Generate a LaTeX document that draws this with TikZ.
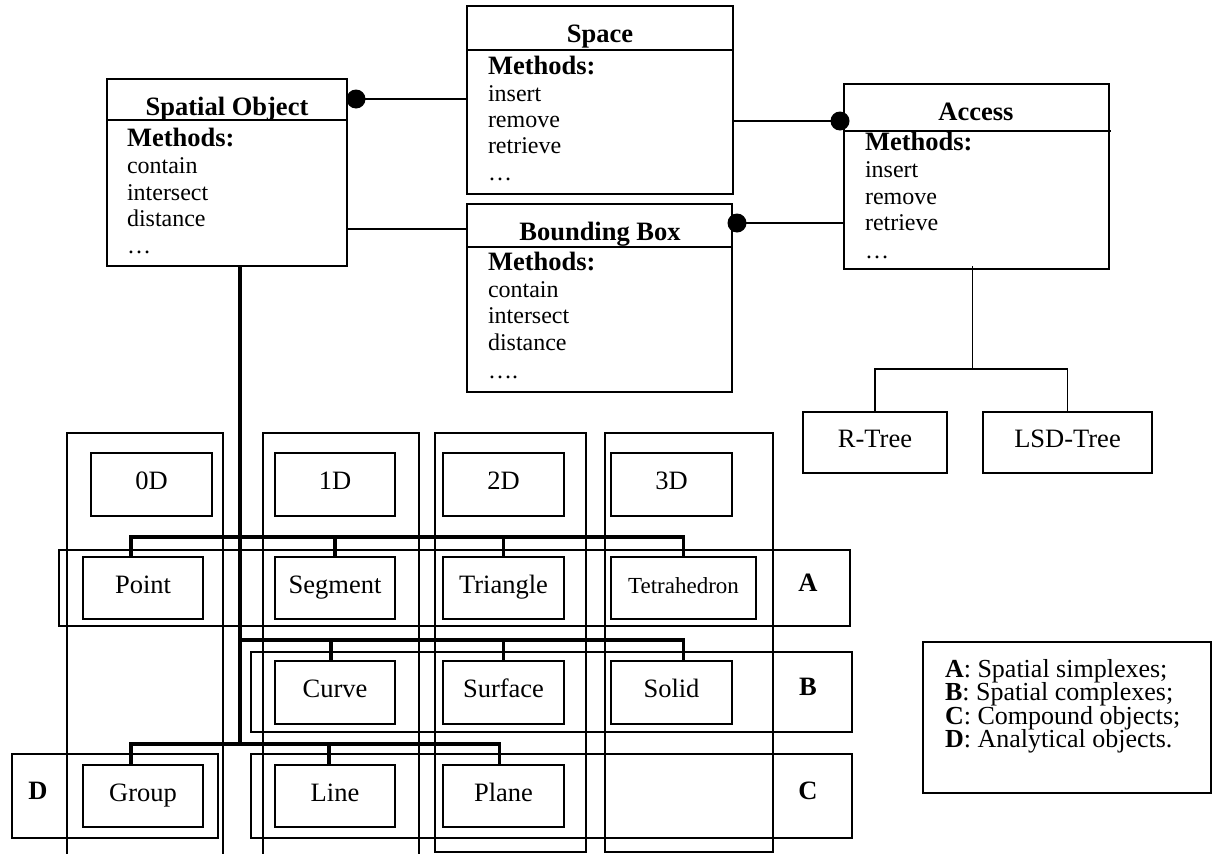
\documentclass[tikz,border=0pt]{standalone}
\usepackage{fontspec}
\setmainfont{Liberation Serif}
\usetikzlibrary{calc}
\newcommand\lbox[6]{\node[lb, minimum width={(#4)-(#2)}, minimum height={(#5)-(#3)}] (#1) at ({((#2)+(#4))/2},{((#3)+(#5))/2}) {#6};}
\newcommand\rect[4]{\draw[thinln] (#1,#2) rectangle (#3,#4);}
\begin{document}
\begin{tikzpicture}[x=1pt,y=-1pt,
  every node/.style={outer sep=0pt},
  thinln/.style={line width=1.7pt},
  thickln/.style={line width=3.6pt, line join=miter},
  cls/.style={draw, line width=1.8pt, inner sep=0pt, anchor=north west},
  ttl/.style={anchor=base, inner sep=0pt, font=\fontsize{26.5}{28}\selectfont\bfseries},
  mth/.style={anchor=base west, inner sep=0pt, font=\fontsize{26.5}{28}\selectfont\bfseries},
  op/.style={anchor=base west, inner sep=0pt, font=\fontsize{24}{26}\selectfont},
  lb/.style={draw, line width=1.7pt, inner sep=0pt, text height=17pt, text depth=7pt, font=\fontsize{26.5}{28}\selectfont},
  lt/.style={inner sep=0pt, text height=17pt, text depth=7pt, font=\fontsize{26.5}{28}\selectfont\bfseries},
  lgt/.style={anchor=base west, inner sep=0pt, font=\fontsize{26}{26}\selectfont},
  dot/.style={fill=black}]
\useasboundingbox (0,0) rectangle (1213,854);

% ---------- class boxes ----------
\node[cls, minimum width=240pt, minimum height=187pt] (so) at (107,79) {};
\draw[line width=1.8pt] ($(so.north west)+(0,41)$) -- ($(so.north east)+(0,41)$);
\node[ttl] (so-t) at (227,115) {Spatial Object};
\node[mth] (so-m) at (127,146) {Methods:};
\node[op] (so-1) at (127,173) {contain};
\node[op] (so-2) at (127,200) {intersect};
\node[op] (so-3) at (127,226) {distance};
\node[op] (so-4) at (127,253) {…};

\node[cls, minimum width=266pt, minimum height=188pt] (sp) at (467,6) {};
\draw[line width=1.8pt] ($(sp.north west)+(0,44)$) -- ($(sp.north east)+(0,44)$);
\node[ttl] (sp-t) at (600,42) {Space};
\node[mth] (sp-m) at (488,74) {Methods:};
\node[op] (sp-1) at (488,101) {insert};
\node[op] (sp-2) at (488,127) {remove};
\node[op] (sp-3) at (488,153) {retrieve};
\node[op] (sp-4) at (488,180) {…};

\node[cls, minimum width=265pt, minimum height=185pt] (ac) at (844,84) {};
\draw[line width=1.8pt] ($(ac.north west)+(0,47)$) -- ($(ac.north east)+(2,47)$);
\node[ttl] (ac-t) at (976,120) {Access};
\node[mth] (ac-m) at (865,150) {Methods:};
\node[op] (ac-1) at (865,177) {insert};
\node[op] (ac-2) at (865,204) {remove};
\node[op] (ac-3) at (865,230) {retrieve};
\node[op] (ac-4) at (865,258) {…};

\node[cls, minimum width=265pt, minimum height=188pt] (bb) at (467,204) {};
\draw[line width=1.8pt] ($(bb.north west)+(0,43)$) -- ($(bb.north east)+(0,43)$);
\node[ttl] (bb-t) at (600,240) {Bounding Box};
\node[mth] (bb-m) at (488,270) {Methods:};
\node[op] (bb-1) at (488,297) {contain};
\node[op] (bb-2) at (488,323) {intersect};
\node[op] (bb-3) at (488,350) {distance};
\node[op] (bb-4) at (488,378) {….};

% ---------- class connectors ----------
\coordinate (d1) at ($(so.north east)+(9,20)$);
\draw[thinln] (d1) -- (d1 -| sp.west);
\fill[dot] (d1) circle[radius=9.5pt];

\coordinate (d2) at ($(ac.north west)+(-4,37)$);
\draw[thinln] (d2 -| sp.east) -- (d2);
\fill[dot] (d2) circle[radius=9.5pt];

\coordinate (c3) at ($(so.north east)+(0,150)$);
\draw[thinln] (c3) -- (c3 -| bb.west);

\coordinate (d4) at ($(bb.north east)+(5,19)$);
\draw[thinln] (d4) -- (d4 -| ac.west);
\fill[dot] (d4) circle[radius=9.5pt];

% ---------- access tree ----------
\lbox{rt}{803}{412}{947}{473}{R-Tree}
\lbox{lsd}{983}{412}{1152}{473}{LSD-Tree}
\coordinate (ab) at ($(ac.south)+(-4,100)$);
\draw[thinln] ($(ac.south)+(-4,-3)$) -- (ab);
\draw[thinln] (rt.north) |- (ab) -| (lsd.north);

% ---------- grid frames ----------
\draw[thinln] (67,854) -- (67,433) -- (223,433) -- (223,854);
\draw[thinln] (263,854) -- (263,433) -- (419,433) -- (419,854);
\rect{435}{433}{586}{852}
\rect{605}{433}{773}{852}
\rect{59}{550}{850}{626}
\rect{251}{652}{852}{732}
\rect{251}{754}{852}{838}
\rect{12}{754}{218}{838}

% ---------- grid boxes ----------
\lbox{z0}{91}{453}{212}{516}{0D}
\lbox{z1}{275}{453}{395}{516}{1D}
\lbox{z2}{443}{453}{564}{516}{2D}
\lbox{z3}{611}{453}{732}{516}{3D}
\lbox{pt}{83}{557}{203}{619}{Point}
\lbox{sg}{275}{557}{395}{619}{Segment}
\lbox{tr}{443}{557}{564}{619}{Triangle}
\lbox{te}{611}{557}{756}{619}{\fontsize{23}{25}\selectfont Tetrahedron}
\lbox{cu}{275}{661}{395}{724}{Curve}
\lbox{sf}{443}{661}{564}{724}{Surface}
\lbox{sd}{611}{661}{732}{724}{Solid}
\lbox{gr}{83}{765}{203}{827}{Group}
\lbox{ln}{275}{765}{395}{827}{Line}
\lbox{pl}{443}{765}{564}{827}{Plane}

\node[lt] (la) at (808,586) {A};
\node[lt] (lbb) at (808,690) {B};
\node[lt] (lc) at (808,794) {C};
\node[lt] (ld) at (38,794) {D};

% ---------- thick buses ----------
\coordinate (tk) at ($(so.south west)+(133,0)$);
\draw[thickln] (tk) -- ($(tk)+(0,478)$);
\draw[thickln] ($(pt.north)+(-12,0)$) -- ++(0,-20) -- ($(te.north)+(0,-20)$) -- (te.north);
\draw[thickln] (sg.north) -- ++(0,-20);
\draw[thickln] (tr.north) -- ++(0,-20);
\draw[thickln] ($(tk)+(0,374)$) -- ($(sd.north)+(12,-21)$) -- ($(sd.north)+(12,0)$);
\draw[thickln] ($(cu.north)+(-4,0)$) -- ++(0,-21);
\draw[thickln] (sf.north) -- ++(0,-21);
\draw[thickln] ($(gr.north)+(-12,0)$) -- ++(0,-21) -- ($(pl.north)+(-4,-21)$) -- ($(pl.north)+(-4,0)$);
\draw[thickln] ($(ln.north)+(-6,0)$) -- ++(0,-19);

% ---------- legend ----------
\node[draw, line width=1.7pt, inner sep=0pt, minimum width=288pt, minimum height=151pt, anchor=north west] (lg) at (923,642) {};
\node[lgt] (lg1) at (945,677) {\textbf{A}: Spatial simplexes;};
\node[lgt] (lg2) at (945,700) {\textbf{B}: Spatial complexes;};
\node[lgt] (lg3) at (945,724) {\textbf{C}: Compound objects;};
\node[lgt] (lg4) at (945,747) {\textbf{D}: Analytical objects.};
\end{tikzpicture}
\end{document}
